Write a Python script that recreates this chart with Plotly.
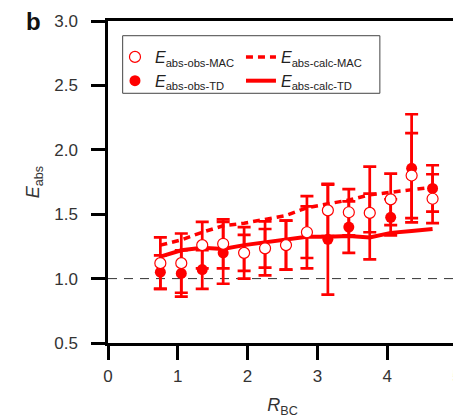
import plotly.graph_objects as go

# ---- data ----
r_bc = [0.75, 1.05, 1.35, 1.65, 1.95, 2.25, 2.55, 2.85, 3.15, 3.45, 3.75, 4.05, 4.35, 4.65]
e_obs_mac = [1.12, 1.12, 1.26, 1.27, 1.20, 1.235, 1.26, 1.36, 1.53, 1.515, 1.51, 1.615, 1.80, 1.62]
e_obs_mac_err = [0.20, 0.23, 0.18, 0.19, 0.14, 0.15, 0.19, 0.20, 0.20, 0.18, 0.36, 0.20, 0.33, 0.19]
e_obs_td = [1.05, 1.04, 1.07, 1.20, 1.20, 1.235, 1.26, 1.36, 1.305, 1.40, 1.51, 1.476, 1.856, 1.70]
e_obs_td_err = [0.13, 0.18, 0.15, 0.24, 0.20, 0.21, 0.19, 0.28, 0.43, 0.20, 0.15, 0.14, 0.42, 0.18]
e_calc_mac = [1.26, 1.30, 1.36, 1.41, 1.43, 1.46, 1.49, 1.55, 1.58, 1.61, 1.65, 1.67, 1.69, 1.71]
e_calc_td = [1.17, 1.22, 1.24, 1.23, 1.26, 1.28, 1.30, 1.325, 1.325, 1.33, 1.32, 1.355, 1.37, 1.385]
x_ticks = [0, 1, 2, 3, 4, 5]
y_ticks = [0.5, 1.0, 1.5, 2.0, 2.5, 3.0]
y_tick_text = ["0.5", "1.0", "1.5", "2.0", "2.5", "3.0"]

RED = "#ff0000"
FONT = "Liberation Sans"

fig = go.Figure()

fig.add_trace(go.Scatter(
    x=r_bc, y=e_calc_td, mode="lines", name="<i>E</i><sub>abs-calc-TD</sub>",
    line=dict(color=RED, width=4), legend="legend2", legendrank=2))
fig.add_trace(go.Scatter(
    x=r_bc, y=e_calc_mac, mode="lines", name="<i>E</i><sub>abs-calc-MAC</sub>",
    line=dict(color=RED, width=3.5, dash="7px,5px"), legend="legend2", legendrank=1))
fig.add_trace(go.Scatter(
    x=r_bc, y=e_obs_td, mode="markers", name="<i>E</i><sub>abs-obs-TD</sub>",
    marker=dict(symbol="circle", size=11, color=RED, line=dict(width=0)),
    error_y=dict(type="data", array=e_obs_td_err, color=RED, thickness=2.7, width=6.5),
    legend="legend", legendrank=2))
fig.add_trace(go.Scatter(
    x=r_bc, y=e_obs_mac, mode="markers", name="<i>E</i><sub>abs-obs-MAC</sub>",
    marker=dict(symbol="circle", size=11, color="white", line=dict(width=1.2, color=RED)),
    error_y=dict(type="data", array=e_obs_mac_err, color=RED, thickness=2.7, width=6.5),
    legend="legend", legendrank=1))

# reference line at E_abs = 1
fig.add_shape(type="line", xref="paper", yref="y", x0=0, x1=1, y0=1.0, y1=1.0,
              line=dict(color="#333333", width=1, dash="9px,7px"), layer="below")
# legend frame
fig.add_shape(type="rect", xref="paper", yref="paper", x0=0.042, x1=0.779,
              y0=0.7755, y1=0.9543, line=dict(color="#444444", width=1),
              fillcolor="rgba(0,0,0,0)", layer="above")

fig.add_annotation(text="<b>b</b>", xref="paper", yref="paper", x=-0.24, y=1.0,
                   xanchor="left", yanchor="middle", showarrow=False,
                   font=dict(family=FONT, size=24, color="#111111"))

axis_common = dict(
    showline=True, linecolor="black", linewidth=2.5, mirror=True,
    ticks="outside", ticklen=14, tickwidth=2.5, tickcolor="black",
    showgrid=False, zeroline=False, automargin=False,
    ticklabeloverflow="allow",
    tickfont=dict(family=FONT, size=17, color="#333333"),
)

legend_common = dict(
    yanchor="top", xanchor="left", orientation="v",
    borderwidth=0, bgcolor="rgba(0,0,0,0)", traceorder="normal",
    font=dict(family=FONT, size=16, color="#222222"),
)

# page body has an 8px margin; the figure is a little wider than the window so the
# right-edge "5" tick label is cut by the window edge, as in the reference
fig.update_layout(
    width=461, height=411,
    margin=dict(l=100, r=12, t=13, b=76),
    paper_bgcolor="white", plot_bgcolor="white",
    font=dict(family=FONT, size=16, color="#333333"),
    xaxis=dict(range=[0, 5], tickvals=x_ticks, ticklabelstandoff=2,
               title=dict(text="<i>R</i><sub>BC</sub>", standoff=14,
                          font=dict(family=FONT, size=18, color="#333333")),
               **axis_common),
    yaxis=dict(range=[0.5, 3.0], tickvals=y_ticks, ticktext=y_tick_text,
               ticklabelstandoff=10,
               title=dict(text="<i>E</i><sub>abs</sub>", standoff=10,
                          font=dict(family=FONT, size=18, color="#333333")),
               **axis_common),
    legend=dict(x=0.02, y=0.941, **legend_common),
    legend2=dict(x=0.381, y=0.941, **legend_common),
    showlegend=True,
)

fig.write_html("out.html", post_script="document.body.style.overflow='hidden';")
